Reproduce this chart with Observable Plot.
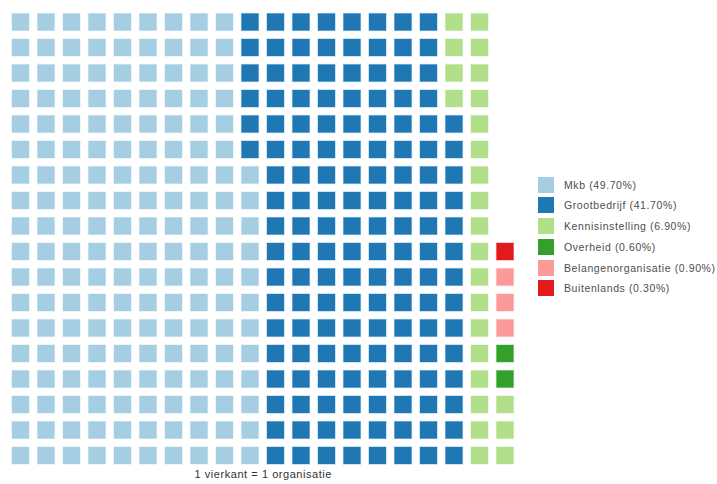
<!DOCTYPE html>
<html>
<head>
<meta charset="utf-8">
<script src="https://cdn.jsdelivr.net/npm/d3@7"></script>
<script src="https://cdn.jsdelivr.net/npm/@observablehq/plot@0.6"></script>
<style>
  html, body { margin: 0; padding: 0; background: #fff; }
  #wrap { position: relative; width: 717px; height: 484px; font-family: "Liberation Sans", Arial, sans-serif; }
  #legend { position: absolute; left: 538px; top: 176.5px; }
  .item { position: relative; height: 20.8px; }
  .key { position: absolute; left: 0; top: 0; width: 16px; height: 16px; }
  .lab { position: absolute; left: 26px; top: 1px; font-size: 10.5px; letter-spacing: 0.6px; color: #4d4d4d; white-space: nowrap; line-height: 14px; }
</style>
</head>
<body>
<div id="wrap"></div>
<script>
// Organisation types and how many organisations fall in each (1 square = 1 organisation)
const categories = ["Mkb", "Grootbedrijf", "Kennisinstelling", "Overheid", "Belangenorganisatie", "Buitenlands"];
const counts = [174, 146, 25, 2, 3, 1];
const shares = ["49.70%", "41.70%", "6.90%", "0.60%", "0.90%", "0.30%"];
const colors = ["#a6cee3", "#1f78b4", "#b2df8a", "#33a02c", "#fb9a99", "#e31a1c"];
const nRows = 18;
const nCols = 20;

// One record per square, filled column by column from the bottom up
const squares = [];
let i = 0;
categories.forEach((cat, k) => {
  for (let n = 0; n < counts[k]; n++, i++) {
    squares.push({cat, col: Math.floor(i / nRows), row: i % nRows});
  }
});

const chart = Plot.plot({
  width: 717,
  height: 484,
  marginLeft: 7.75,
  marginRight: 199.25,
  marginTop: 9.25,
  marginBottom: 15.75,
  style: {fontFamily: "Liberation Sans, Arial, sans-serif", background: "#fff"},
  x: {type: "band", domain: d3.range(nCols), padding: 0, round: false, axis: null},
  y: {type: "band", domain: d3.range(nRows - 1, -1, -1), padding: 0, round: false, axis: null},
  color: {domain: categories, range: colors},
  marks: [
    Plot.cell(squares, {
      x: "col", y: "row", fill: "cat", inset: 4.25,
      stroke: "cat", strokeOpacity: 0.35, strokeWidth: 1.2
    }),
    Plot.text(["1 vierkant = 1 organisatie"], {
      frameAnchor: "bottom", dy: 9, fontSize: 11, fill: "#333",
      text: d => d
    })
  ]
});
chart.querySelectorAll("text").forEach(t => t.setAttribute("letter-spacing", "0.55"));

const wrap = document.getElementById("wrap");
wrap.appendChild(chart);

// Legend with the share of each organisation type
const legend = document.createElement("div");
legend.id = "legend";
categories.forEach((cat, k) => {
  const item = document.createElement("div");
  item.className = "item";
  const key = document.createElement("div");
  key.className = "key";
  key.style.background = colors[k];
  const lab = document.createElement("div");
  lab.className = "lab";
  lab.textContent = `${cat} (${shares[k]})`;
  item.appendChild(key);
  item.appendChild(lab);
  legend.appendChild(item);
});
wrap.appendChild(legend);
</script>
</body>
</html>
